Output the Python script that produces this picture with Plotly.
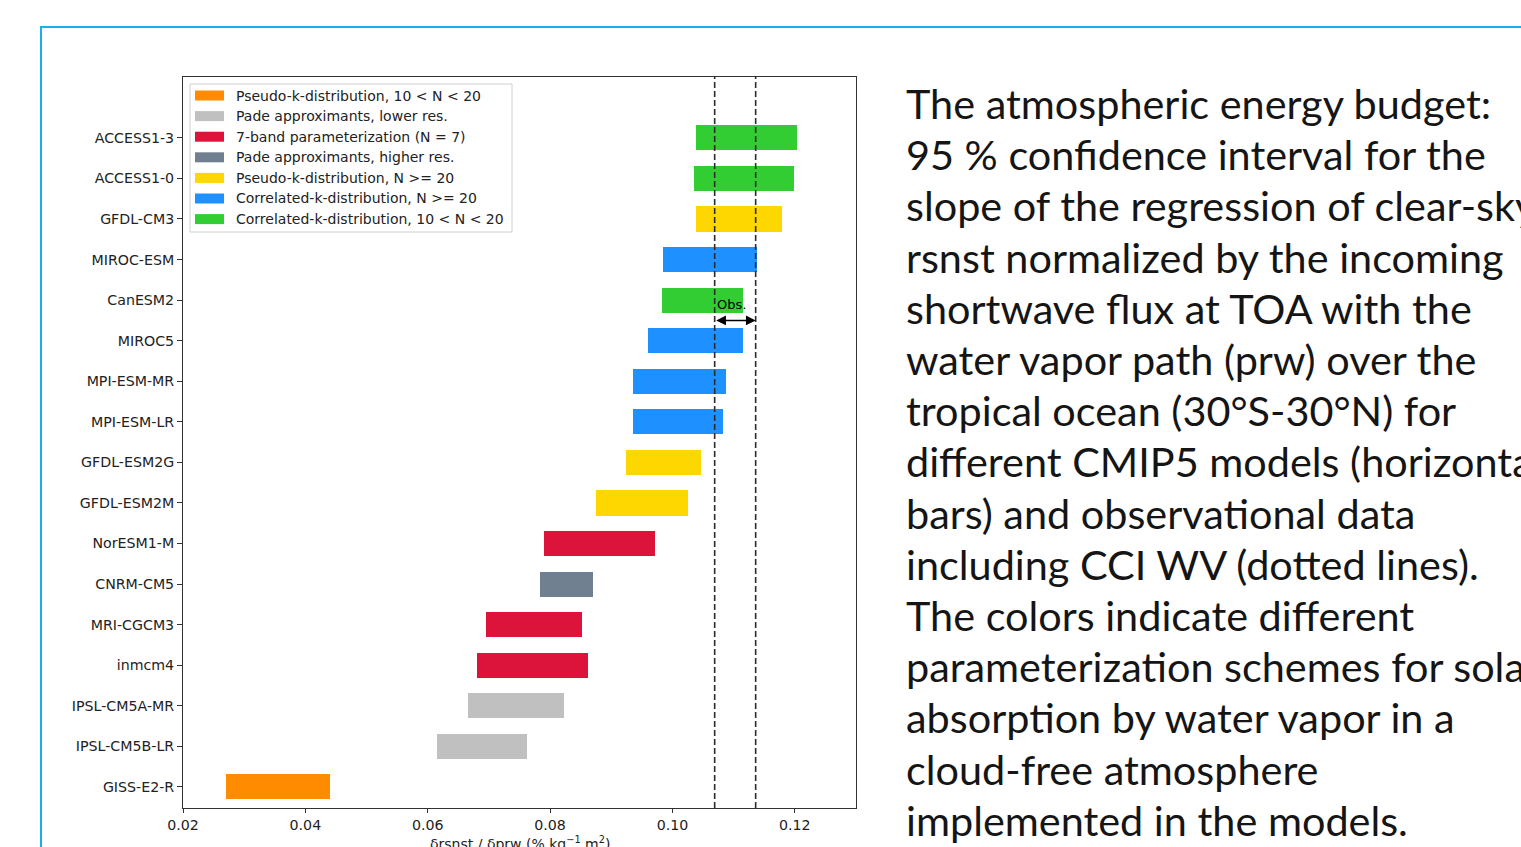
import plotly.graph_objects as go

# CMIP5 models, bottom to top
models = ["GISS-E2-R", "IPSL-CM5B-LR", "IPSL-CM5A-MR", "inmcm4", "MRI-CGCM3",
          "CNRM-CM5", "NorESM1-M", "GFDL-ESM2M", "GFDL-ESM2G", "MPI-ESM-LR",
          "MPI-ESM-MR", "MIROC5", "CanESM2", "MIROC-ESM", "GFDL-CM3",
          "ACCESS1-0", "ACCESS1-3"]
# 95 % confidence interval of the slope (lower / upper bound)
ci_low = [0.0271, 0.0615, 0.0666, 0.0680, 0.0696, 0.0783, 0.0790, 0.0875,
          0.0924, 0.0935, 0.0935, 0.0960, 0.0983, 0.0984, 0.1039, 0.1035, 0.1038]
ci_high = [0.0441, 0.0763, 0.0823, 0.0862, 0.0852, 0.0870, 0.0971, 0.1025,
           0.1047, 0.1082, 0.1088, 0.1115, 0.1115, 0.1138, 0.1179, 0.1199, 0.1203]
# parameterization scheme index per model
scheme = [0, 1, 1, 2, 2, 3, 2, 4, 4, 5, 5, 5, 6, 5, 4, 6, 6]

scheme_names = ["Pseudo-k-distribution, 10 < N < 20",
                "Pade approximants, lower res.",
                "7-band parameterization (N = 7)",
                "Pade approximants, higher res.",
                "Pseudo-k-distribution, N >= 20",
                "Correlated-k-distribution, N >= 20",
                "Correlated-k-distribution, 10 < N < 20"]
scheme_colors = ["#FF8C00", "#C0C0C0", "#DC143C", "#708090",
                 "#FFD700", "#1E90FF", "#32CD32"]

# observational interval (CCI WV)
obs_low, obs_high = 0.1069, 0.1136

x_ticks = [0.02, 0.04, 0.06, 0.08, 0.10, 0.12]

caption = ["The atmospheric energy budget:",
           "95 % confidence interval for the",
           "slope of the regression of clear-sky",
           "rsnst normalized by the incoming",
           "shortwave flux at TOA with the",
           "water vapor path (prw) over the",
           "tropical ocean (30°S-30°N) for",
           "different CMIP5 models (horizontal",
           "bars) and observational data",
           "including CCI WV (dotted lines).",
           "The colors indicate different",
           "parameterization schemes for solar",
           "absorption by water vapor in a",
           "cloud-free atmosphere",
           "implemented in the models."]

W, H = 1521, 847
L, R, T, B = 183, 856, 77, 808


def px(x):
    return (x - L) / (R - L)


def py(y):
    return (B - y) / (B - T)


fig = go.Figure()

for k, (name, col) in enumerate(zip(scheme_names, scheme_colors)):
    idx = [i for i, s in enumerate(scheme) if s == k]
    fig.add_trace(go.Bar(
        orientation="h",
        y=idx,
        base=[ci_low[i] for i in idx],
        x=[ci_high[i] - ci_low[i] for i in idx],
        width=0.62,
        marker=dict(color=col, line=dict(width=0)),
        name=name,
        showlegend=False,
        hovertext=[models[i] for i in idx],
    ))

shapes = []
annotations = []

# observation bounds
for v in (obs_low, obs_high):
    shapes.append(dict(type="line", xref="x", yref="paper", x0=v, x1=v, y0=0, y1=1,
                       line=dict(color="#2b2b2b", width=1.6, dash="6px,3px")))

annotations.append(dict(x=obs_high, y=11.5, ax=obs_low, ay=11.5, xref="x", yref="y",
                        axref="x", ayref="y", text="", showarrow=True,
                        arrowhead=2, startarrowhead=2, arrowside="end+start",
                        arrowsize=1.3, arrowwidth=1.5, arrowcolor="black",
                        standoff=0, startstandoff=0))
annotations.append(dict(x=obs_low, y=11.88, xref="x", yref="y", text="Obs.",
                        showarrow=False, xanchor="left", yanchor="middle",
                        font=dict(family="DejaVu Sans", size=13, color="black")))

# legend box
shapes.append(dict(type="rect", xref="paper", yref="paper",
                   x0=px(190), x1=px(512), y0=py(84), y1=py(232),
                   line=dict(color="#d0d0d0", width=1), fillcolor="rgba(255,255,255,0.85)",
                   layer="above"))
for k, (name, col) in enumerate(zip(scheme_names, scheme_colors)):
    yc = 95.5 + 20.6 * k
    shapes.append(dict(type="rect", xref="paper", yref="paper",
                       x0=px(195), x1=px(224), y0=py(yc - 5), y1=py(yc + 5),
                       line=dict(width=0), fillcolor=col, layer="above"))
    annotations.append(dict(x=px(234), y=py(yc), xref="paper", yref="paper",
                            text=name, showarrow=False, xanchor="left",
                            yanchor="middle",
                            font=dict(family="DejaVu Sans", size=14, color="#222")))

# x-axis title
annotations.append(dict(x=0.5, y=py(843), xref="paper", yref="paper",
                        text="δrsnst / δprw (% kg<sup>−1</sup> m<sup>2</sup>)",
                        showarrow=False, xanchor="center", yanchor="middle",
                        font=dict(family="DejaVu Sans", size=14, color="#222")))

# slide frame
shapes.append(dict(type="rect", xref="paper", yref="paper",
                   x0=px(41), x1=px(1560), y0=py(27), y1=py(900),
                   line=dict(color="#1AAFE8", width=2), fillcolor="rgba(0,0,0,0)"))

# caption text
for i, line in enumerate(caption):
    annotations.append(dict(x=px(904), y=py(103 + 51.2 * i), xref="paper", yref="paper",
                            text=line, showarrow=False, xanchor="left", yanchor="middle",
                            font=dict(family="Lato", size=41.4, color="#151515")))

axis_font = dict(family="DejaVu Sans", size=14.2, color="#222")
fig.update_layout(
    width=W, height=H,
    margin=dict(l=L, r=W - R, t=T, b=H - B, autoexpand=False),
    plot_bgcolor="white", paper_bgcolor="white",
    shapes=shapes, annotations=annotations,
    bargap=0,
    xaxis=dict(range=[0.02, 0.13], tickvals=x_ticks, ticktext=[f"{v:.2f}" for v in x_ticks],
               showgrid=False, zeroline=False, showline=True, mirror=True,
               linecolor="#333", linewidth=1, ticks="outside", ticklen=4,
               tickcolor="#333", tickfont=axis_font, automargin=False),
    yaxis=dict(range=[-0.52, 17.5], tickvals=list(range(len(models))), ticktext=models,
               showgrid=False, zeroline=False, showline=True, mirror=True,
               linecolor="#333", linewidth=1, ticks="outside", ticklen=5,
               tickcolor="#333", tickfont=axis_font, automargin=False),
)

fig.write_html("out.html")
